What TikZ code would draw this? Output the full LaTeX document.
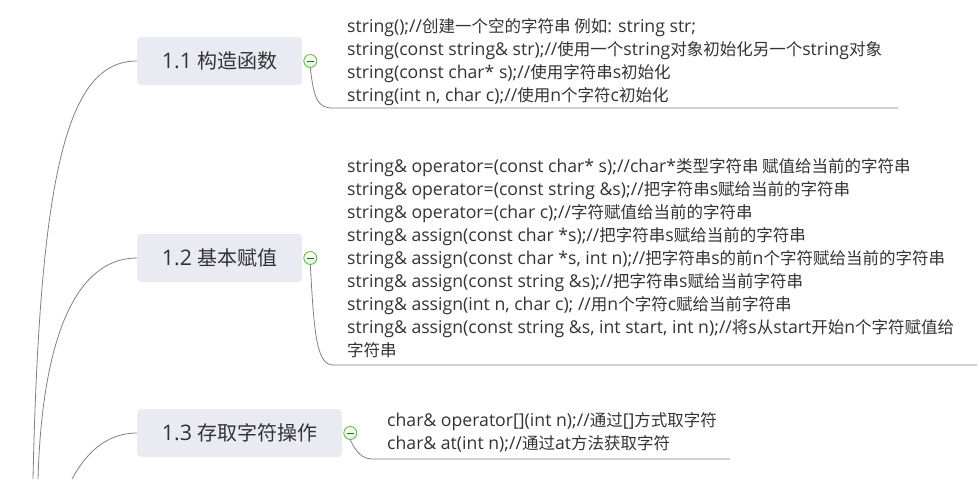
\documentclass[tikz,border=0pt]{standalone}
\usepackage{fontspec}
\setmainfont[Scale=1.07]{Open Sans}
\newfontfamily\zhfont{Noto Sans CJK SC}
\newcommand\zh[1]{{\zhfont #1}}
\usepackage{xcolor}
\usetikzlibrary{positioning}
\definecolor{topicfill}{HTML}{E9EAF2}
\definecolor{inkgray}{HTML}{333333}
\definecolor{linegray}{HTML}{808080}
\definecolor{foldgreen}{HTML}{6AAE3C}

\begin{document}
\begin{tikzpicture}[x=1pt, y=-1pt,
    topic/.style={fill=topicfill, rounded corners=4pt, minimum height=48pt, inner sep=0pt,
        anchor=west, text=inkgray, font=\fontsize{20}{24}\selectfont},
    fold/.style={circle, draw=foldgreen, top color=white, bottom color=green!20, line width=0.8pt,
        minimum size=13pt, inner sep=0pt,
        path picture={\draw[line width=1pt, black!70] ([xshift=-3.5pt]path picture bounding box.center) -- ([xshift=3.5pt]path picture bounding box.center);}},
    leaf/.style={anchor=base west, align=left, inner sep=0pt, text=inkgray, font=\fontsize{16.5}{23}\selectfont},
    branch/.style={draw=linegray, line width=0.8pt}]
\useasboundingbox (0,0) rectangle (979,479);

% Topic boxes
\node[topic, minimum width=165pt] (t1) at (137,61) {1.1 \zh{构造函数}};
\node[topic, minimum width=165pt] (t2) at (137,258) {1.2 \zh{基本赋值}};
\node[topic, minimum width=205pt] (t3) at (137,433) {1.3 \zh{存取字符操作}};

% Trunk from the root below
\coordinate (r1) at (33,479);
\coordinate (r2) at (38,479);
\coordinate (r3) at (72,479);
\draw[branch] (r1) .. controls (40,160) and (70,61) .. (t1.west);
\draw[branch] (r2) .. controls (42,340) and (75,258) .. (t2.west);
\draw[branch] (r3) .. controls (85,455) and (105,433) .. (t3.west);

% Fold buttons
\node[fold, right=1pt of t1] (c1) {};
\node[fold, right=1pt of t2] (c2) {};
\node[fold, right=1pt of t3] (c3) {};

% Leaf texts (anchored at the baseline of the last line)
\node[leaf] (d1) at (347,101) {string();//\zh{创建一个空的字符串 例如}: string str;\\
string(const string\& str);//\zh{使用一个}string\zh{对象初始化另一个}string\zh{对象}\\
string(const char* s);//\zh{使用字符串}s\zh{初始化}\\
string(int n, char c);//\zh{使用}n\zh{个字符}c\zh{初始化}};
\node[leaf] (d2) at (347,356) {string\& operator=(const char* s);//char*\zh{类型字符串 赋值给当前的字符串}\\
string\& operator=(const string \&s);//\zh{把字符串}s\zh{赋给当前的字符串}\\
string\& operator=(char c);//\zh{字符赋值给当前的字符串}\\
string\& assign(const char *s);//\zh{把字符串}s\zh{赋给当前的字符串}\\
string\& assign(const char *s, int n);//\zh{把字符串}s\zh{的前}n\zh{个字符赋给当前的字符串}\\
string\& assign(const string \&s);//\zh{把字符串}s\zh{赋给当前字符串}\\
string\& assign(int n, char c); //\zh{用}n\zh{个字符}c\zh{赋给当前字符串}\\
string\& assign(const string \&s, int start, int n);//\zh{将}s\zh{从}start\zh{开始}n\zh{个字符赋值给}\\
\zh{字符串}};
\node[leaf] (d3) at (387,449) {char\& operator[](int n);//\zh{通过}[]\zh{方式取字符}\\
char\& at(int n);//\zh{通过}at\zh{方法获取字符}};

% Underlines
\coordinate (u1a) at (333,108);
\coordinate (u1b) at (898,108);
\coordinate (u2a) at (333,365);
\coordinate (u2b) at (977,365);
\coordinate (u3a) at (373,459);
\coordinate (u3b) at (730,459);
\draw[branch] (c1.south) .. controls (314,100) and (318,108) .. (u1a) -- (u1b);
\draw[branch] (c2.south) .. controls (314,330) and (316,365) .. (u2a) -- (u2b);
\draw[branch] (c3.south) .. controls (356,452) and (362,459) .. (u3a) -- (u3b);
\end{tikzpicture}
\end{document}
